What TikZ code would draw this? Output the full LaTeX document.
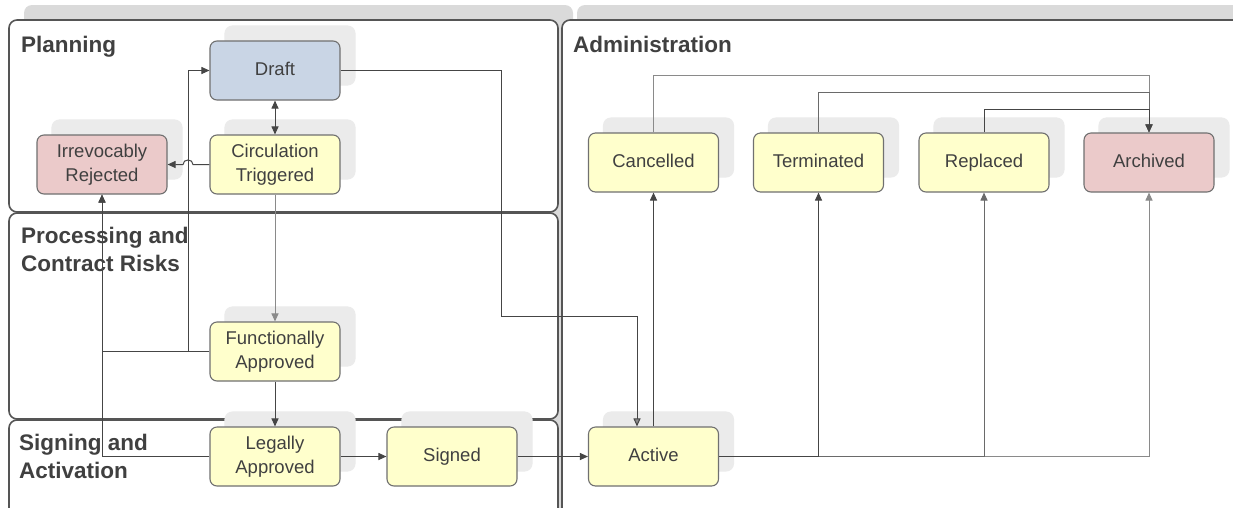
\documentclass[tikz,border=0pt]{standalone}
\usepackage{fontspec}
\setmainfont{Liberation Sans}
\usetikzlibrary{arrows.meta,calc}
\definecolor{laneline}{HTML}{555555}
\definecolor{laneshadow}{HTML}{DADADA}
\definecolor{nodeshadow}{HTML}{EBEBEB}
\definecolor{nodeline}{HTML}{707070}
\definecolor{bluefill}{HTML}{C9D5E5}
\definecolor{yellowfill}{HTML}{FFFFCC}
\definecolor{redfill}{HTML}{EBCACA}
\definecolor{txt}{HTML}{404040}
\definecolor{conn}{HTML}{454545}
\definecolor{conngray}{HTML}{8A8A8A}
\pgfdeclarelayer{lanes}
\pgfdeclarelayer{shadows}
\pgfsetlayers{lanes,shadows,main}
\tikzset{
  lanebox/.style={draw=laneline, line width=1.6pt, fill=white, rounded corners=8pt},
  laneshad/.style={fill=laneshadow, rounded corners=8pt},
  lanetitle/.style={anchor=base west, inner sep=0pt, text=txt, align=left,
    font=\fontsize{22.5}{28}\selectfont\bfseries},
  state/.style={draw=nodeline, line width=1.1pt, rounded corners=7pt,
    minimum width=130pt, minimum height=59pt, inner sep=0pt, align=center,
    text=txt, font=\fontsize{18.5}{24}\selectfont},
  oneline/.style={text height=13.5pt, text depth=4pt},
  blue/.style={state, fill=bluefill},
  yel/.style={state, fill=yellowfill},
  red/.style={state, fill=redfill},
  link/.style={draw=conn, line width=1pt, -{Triangle[length=8pt,width=7pt]}},
  glink/.style={draw=conngray, line width=1pt, -{Triangle[length=8pt,width=7pt]}},
}
\begin{document}
\begin{tikzpicture}[x=1pt,y=-1pt]
\useasboundingbox (0,0) rectangle (1233,507);
\clip (0,0) rectangle (1233,507);
% nodes
\node[blue, oneline] (draft) at (275,70.5) {Draft};
\node[yel] (circ) at (275,164.5) {Circulation\\Triggered};
\node[red] (irr) at (102,164.5) {Irrevocably\\Rejected};
\node[yel] (func) at (275,351.5) {Functionally\\Approved};
\node[yel] (legal) at (275,456.5) {Legally\\Approved};
\node[yel, oneline] (signed) at (452,456.5) {Signed};
\node[yel, oneline] (active) at (653.5,456.5) {Active};
\node[yel, oneline] (cancel) at (653.5,162.5) {Cancelled};
\node[yel, oneline] (term) at (818.5,162.5) {Terminated};
\node[yel, oneline] (repl) at (984,162.5) {Replaced};
\node[red, oneline] (arch) at (1149,162.5) {Archived};
% shadows
\begin{pgfonlayer}{shadows}
\foreach \n in {draft,circ,irr,func,legal,signed,active,cancel,term,repl,arch}{
  \fill[nodeshadow, rounded corners=8pt] ($(\n.south west)+(15,-15)$) rectangle ($(\n.north east)+(15,-15)$);
}
\end{pgfonlayer}
% lanes
\begin{pgfonlayer}{lanes}
\fill[laneshad] (24,5) rectangle (573,520);
\fill[laneshad] (577,5) rectangle (1260,520);
\draw[lanebox] (9,420) rectangle (558,520);
\draw[lanebox] (9,213) rectangle (558,419);
\draw[lanebox] (9,20) rectangle (558,212);
\draw[lanebox] (562,20) rectangle (1260,520);
\node[lanetitle] (tplan) at (21,52) {Planning};
\node[lanetitle] (tproc) at (21,271) {Processing and\\Contract Risks};
\node[lanetitle] (tsign) at (19,478) {Signing and\\Activation};
\node[lanetitle] (tadm) at (573,52) {Administration};
\end{pgfonlayer}
% connectors
\draw[link, {Triangle[length=8pt,width=7pt]}-{Triangle[length=8pt,width=7pt]}] (draft.south) -- (circ.north);
\draw[link] (circ.west) -- (193,164.5) .. controls (193,158.5) and (183,158.5) .. (183,164.5) -- (irr.east);
\draw[link] (func.west) -- (188,351.5) |- (draft.west);
\draw[link] (func.west) -| (irr.south);
\draw[link] (legal.west) -| (irr.south);
\draw[glink] (circ.south) -- (func.north);
\draw[link] (func.south) -- (legal.north);
\draw[link] (legal.east) -- (signed.west);
\draw[link] (signed.east) -- (active.west);
\draw[link, -{Triangle[length=8pt,width=7pt,fill=conngray]}] (draft.east) -- (501,70.5) -- (501,316) -| ([xshift=-16.5pt]active.north);
\draw[link] (active.north) -- (cancel.south);
\draw[glink] (cancel.north) -- ++(0,-57) -| (arch.north);
\draw[link, draw=conn!80!white] (term.north) -- ++(0,-40) -| (arch.north);
\draw[link] (repl.north) -- ++(0,-23) -| (arch.north);
\draw[glink] (active.east) -| (arch.south);
\draw[link, draw=conn!80!white] (active.east) -| (repl.south);
\draw[link] (active.east) -| (term.south);
\end{tikzpicture}
\end{document}
